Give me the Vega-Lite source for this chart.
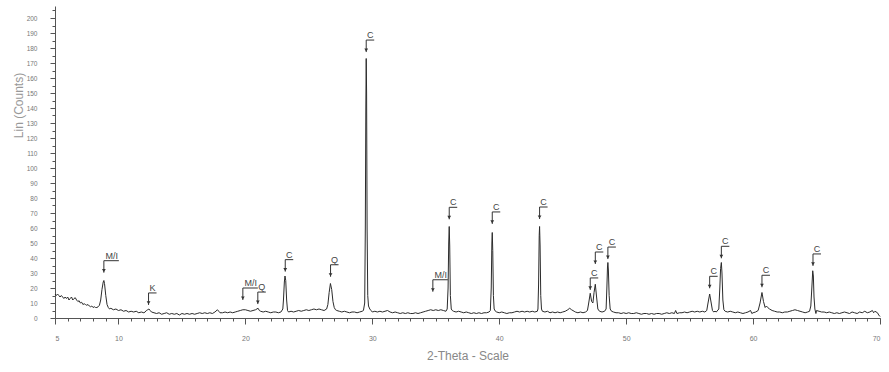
{
  "$schema": "https://vega.github.io/schema/vega-lite/v6.json",
  "width": 825,
  "height": 312,
  "autosize": "none",
  "padding": {"left": 55, "top": 6, "right": 9, "bottom": 54},
  "background": "white",
  "config": {"view": {"stroke": null}, "font": "Liberation Sans"},
  "datasets": {
    "scan": [
      {"t":5.0,"c":16},{"t":5.1,"c":15},{"t":5.2,"c":16},{"t":5.3,"c":15},{"t":5.4,"c":14},{"t":5.5,"c":15},{"t":5.6,"c":14},{"t":5.7,"c":13},{"t":5.8,"c":14},{"t":5.9,"c":13},
      {"t":6.0,"c":14},{"t":6.1,"c":12},{"t":6.2,"c":13},{"t":6.3,"c":14},{"t":6.4,"c":12},{"t":6.5,"c":13},{"t":6.6,"c":13.5},{"t":6.7,"c":12},{"t":6.8,"c":11},{"t":6.9,"c":11.5},
      {"t":7.0,"c":10},{"t":7.1,"c":10.5},{"t":7.2,"c":9},{"t":7.3,"c":9.5},{"t":7.4,"c":9},{"t":7.5,"c":8.5},{"t":7.6,"c":9},{"t":7.7,"c":8},{"t":7.8,"c":7.5},{"t":7.9,"c":8},
      {"t":8.0,"c":7},{"t":8.1,"c":7.5},{"t":8.2,"c":7},{"t":8.3,"c":7},{"t":8.4,"c":7.5},{"t":8.5,"c":8.5},{"t":8.6,"c":12},{"t":8.7,"c":19},{"t":8.8,"c":24},{"t":8.85,"c":25},
      {"t":8.9,"c":23},{"t":9.0,"c":15},{"t":9.1,"c":9},{"t":9.2,"c":7},{"t":9.3,"c":6},{"t":9.4,"c":6.5},{"t":9.6,"c":5.5},{"t":9.8,"c":6},{"t":10.0,"c":5},{"t":10.2,"c":5.5},
      {"t":10.4,"c":4.5},{"t":10.6,"c":5},{"t":10.8,"c":4},{"t":11.0,"c":4.5},{"t":11.2,"c":4},{"t":11.4,"c":4.5},{"t":11.6,"c":3.5},{"t":11.8,"c":4},{"t":12.0,"c":3.5},{"t":12.1,"c":4},
      {"t":12.2,"c":5},{"t":12.3,"c":5.5},{"t":12.4,"c":6},{"t":12.5,"c":5},{"t":12.6,"c":4},{"t":12.8,"c":3.5},{"t":13.0,"c":3},{"t":13.2,"c":3.5},{"t":13.4,"c":2.5},{"t":13.6,"c":3},
      {"t":13.8,"c":3.5},{"t":14.0,"c":2.5},{"t":14.2,"c":3},{"t":14.4,"c":2.5},{"t":14.6,"c":3},{"t":14.8,"c":2},{"t":15.0,"c":3},{"t":15.2,"c":2.5},{"t":15.4,"c":3},{"t":15.6,"c":2.5},
      {"t":15.8,"c":3},{"t":16.0,"c":2.5},{"t":16.2,"c":3},{"t":16.4,"c":3.5},{"t":16.6,"c":3},{"t":16.8,"c":3.5},{"t":17.0,"c":3},{"t":17.2,"c":3.5},{"t":17.4,"c":3},{"t":17.6,"c":4},
      {"t":17.8,"c":5.5},{"t":17.9,"c":4.5},{"t":18.0,"c":3.5},{"t":18.2,"c":3.5},{"t":18.4,"c":4},{"t":18.6,"c":3.5},{"t":18.8,"c":4},{"t":19.0,"c":3.5},{"t":19.2,"c":4},{"t":19.4,"c":4.5},
      {"t":19.6,"c":5},{"t":19.8,"c":5.5},{"t":20.0,"c":5.5},{"t":20.2,"c":5},{"t":20.4,"c":4.5},{"t":20.6,"c":5},{"t":20.8,"c":5.5},{"t":21.0,"c":6.5},{"t":21.1,"c":5},{"t":21.2,"c":4.5},
      {"t":21.4,"c":4},{"t":21.6,"c":4.5},{"t":21.8,"c":4},{"t":22.0,"c":3.5},{"t":22.2,"c":4},{"t":22.4,"c":4},{"t":22.6,"c":3.5},{"t":22.8,"c":4},{"t":22.95,"c":6},{"t":23.0,"c":12},
      {"t":23.07,"c":24},{"t":23.12,"c":28},{"t":23.18,"c":25},{"t":23.25,"c":12},{"t":23.32,"c":5},{"t":23.4,"c":4},{"t":23.6,"c":4.5},{"t":23.8,"c":4},{"t":24.0,"c":4.5},{"t":24.2,"c":5},
      {"t":24.4,"c":4.5},{"t":24.6,"c":5},{"t":24.8,"c":5.5},{"t":25.0,"c":5},{"t":25.2,"c":5.5},{"t":25.4,"c":6},{"t":25.6,"c":5.5},{"t":25.8,"c":6},{"t":26.0,"c":5.5},{"t":26.2,"c":5},
      {"t":26.4,"c":6},{"t":26.5,"c":9},{"t":26.6,"c":17},{"t":26.7,"c":23},{"t":26.8,"c":19},{"t":26.9,"c":11},{"t":27.0,"c":7},{"t":27.1,"c":5.5},{"t":27.2,"c":5},{"t":27.4,"c":4.5},
      {"t":27.6,"c":4},{"t":27.8,"c":4.5},{"t":28.0,"c":4},{"t":28.2,"c":3.5},{"t":28.4,"c":4},{"t":28.6,"c":4},{"t":28.8,"c":3.5},{"t":29.0,"c":4},{"t":29.2,"c":4.5},{"t":29.3,"c":5},
      {"t":29.4,"c":10},{"t":29.45,"c":60},{"t":29.49,"c":140},{"t":29.52,"c":173},{"t":29.55,"c":150},{"t":29.59,"c":60},{"t":29.64,"c":15},{"t":29.7,"c":8},{"t":29.8,"c":6},{"t":29.9,"c":5},
      {"t":30.0,"c":4},{"t":30.2,"c":4.5},{"t":30.4,"c":4},{"t":30.6,"c":4.5},{"t":30.8,"c":4},{"t":31.0,"c":4.5},{"t":31.2,"c":5},{"t":31.4,"c":4},{"t":31.6,"c":3.5},{"t":31.8,"c":4},
      {"t":32.0,"c":3.5},{"t":32.2,"c":3},{"t":32.4,"c":3.5},{"t":32.6,"c":3},{"t":32.8,"c":3.5},{"t":33.0,"c":3},{"t":33.2,"c":3},{"t":33.4,"c":3.5},{"t":33.6,"c":3},{"t":33.8,"c":3.5},
      {"t":34.0,"c":4},{"t":34.2,"c":4.5},{"t":34.4,"c":5},{"t":34.6,"c":5.5},{"t":34.8,"c":5},{"t":35.0,"c":5.5},{"t":35.2,"c":5},{"t":35.4,"c":5.5},{"t":35.6,"c":5},{"t":35.8,"c":4.5},
      {"t":35.9,"c":6},{"t":35.97,"c":20},{"t":36.02,"c":50},{"t":36.06,"c":61},{"t":36.1,"c":48},{"t":36.15,"c":15},{"t":36.22,"c":6},{"t":36.3,"c":5},{"t":36.4,"c":4.5},{"t":36.6,"c":4},
      {"t":36.8,"c":4.5},{"t":37.0,"c":4},{"t":37.2,"c":3.5},{"t":37.4,"c":4},{"t":37.6,"c":3.5},{"t":37.8,"c":3},{"t":38.0,"c":3.5},{"t":38.2,"c":3},{"t":38.4,"c":3.5},{"t":38.6,"c":3},
      {"t":38.8,"c":3.5},{"t":39.0,"c":3.5},{"t":39.2,"c":4},{"t":39.3,"c":5},{"t":39.37,"c":20},{"t":39.42,"c":50},{"t":39.45,"c":57},{"t":39.49,"c":45},{"t":39.54,"c":15},{"t":39.6,"c":6},
      {"t":39.7,"c":4.5},{"t":39.8,"c":4},{"t":40.0,"c":3.5},{"t":40.2,"c":4},{"t":40.4,"c":3.5},{"t":40.6,"c":3},{"t":40.8,"c":3.5},{"t":41.0,"c":3.5},{"t":41.2,"c":4},{"t":41.4,"c":4.5},
      {"t":41.6,"c":4},{"t":41.8,"c":4.5},{"t":42.0,"c":4},{"t":42.2,"c":4.5},{"t":42.4,"c":4},{"t":42.6,"c":4.5},{"t":42.8,"c":4},{"t":43.0,"c":4.5},{"t":43.05,"c":6},{"t":43.1,"c":22},
      {"t":43.15,"c":55},{"t":43.18,"c":61},{"t":43.22,"c":48},{"t":43.27,"c":15},{"t":43.33,"c":6},{"t":43.4,"c":4.5},{"t":43.6,"c":4},{"t":43.8,"c":4.5},{"t":44.0,"c":3.5},{"t":44.2,"c":4},
      {"t":44.4,"c":3.5},{"t":44.6,"c":4},{"t":44.8,"c":3.5},{"t":45.0,"c":4},{"t":45.2,"c":4.5},{"t":45.4,"c":5.5},{"t":45.55,"c":6.5},{"t":45.7,"c":5.5},{"t":45.9,"c":4.5},{"t":46.0,"c":4},
      {"t":46.2,"c":3.5},{"t":46.4,"c":4},{"t":46.6,"c":3.5},{"t":46.8,"c":4},{"t":46.95,"c":5},{"t":47.05,"c":10},{"t":47.17,"c":16.5},{"t":47.28,"c":11},{"t":47.38,"c":10},{"t":47.47,"c":17},
      {"t":47.57,"c":22.5},{"t":47.67,"c":14},{"t":47.77,"c":6},{"t":47.9,"c":4.5},{"t":48.1,"c":4},{"t":48.3,"c":4.5},{"t":48.42,"c":6},{"t":48.48,"c":20},{"t":48.53,"c":34},{"t":48.56,"c":37},
      {"t":48.6,"c":32},{"t":48.66,"c":15},{"t":48.74,"c":6},{"t":48.85,"c":4.5},{"t":49.0,"c":4},{"t":49.2,"c":3.5},{"t":49.4,"c":3.5},{"t":49.6,"c":3},{"t":49.8,"c":3.5},{"t":50.0,"c":3},
      {"t":50.2,"c":3.5},{"t":50.4,"c":3},{"t":50.6,"c":3},{"t":50.8,"c":3.5},{"t":51.0,"c":3},{"t":51.2,"c":2.5},{"t":51.4,"c":3},{"t":51.6,"c":3},{"t":51.8,"c":2.5},{"t":52.0,"c":3},
      {"t":52.2,"c":2.5},{"t":52.4,"c":3},{"t":52.6,"c":3},{"t":52.8,"c":2.5},{"t":53.0,"c":3},{"t":53.2,"c":3.5},{"t":53.4,"c":3},{"t":53.6,"c":3.5},{"t":53.8,"c":3},{"t":53.9,"c":5},
      {"t":54.0,"c":3},{"t":54.2,"c":3.5},{"t":54.4,"c":3.5},{"t":54.6,"c":4},{"t":54.8,"c":3.5},{"t":55.0,"c":4},{"t":55.2,"c":4.5},{"t":55.4,"c":4},{"t":55.6,"c":4.5},{"t":55.8,"c":4},
      {"t":56.0,"c":4.5},{"t":56.2,"c":4},{"t":56.35,"c":5},{"t":56.45,"c":10},{"t":56.58,"c":16},{"t":56.7,"c":10},{"t":56.8,"c":5},{"t":56.9,"c":4},{"t":57.0,"c":4.5},{"t":57.1,"c":4},
      {"t":57.3,"c":6},{"t":57.38,"c":20},{"t":57.44,"c":33},{"t":57.5,"c":37},{"t":57.55,"c":30},{"t":57.62,"c":12},{"t":57.7,"c":5.5},{"t":57.8,"c":4.5},{"t":58.0,"c":4},{"t":58.2,"c":4.5},
      {"t":58.4,"c":4},{"t":58.6,"c":3.5},{"t":58.8,"c":4},{"t":59.0,"c":3.5},{"t":59.2,"c":3},{"t":59.4,"c":3.5},{"t":59.6,"c":4},{"t":59.8,"c":5},{"t":59.9,"c":3},{"t":60.0,"c":3.5},
      {"t":60.2,"c":4},{"t":60.4,"c":5},{"t":60.55,"c":10},{"t":60.7,"c":17},{"t":60.82,"c":11},{"t":60.95,"c":7},{"t":61.05,"c":8},{"t":61.15,"c":7},{"t":61.3,"c":6},{"t":61.5,"c":5},
      {"t":61.7,"c":4.5},{"t":61.9,"c":4},{"t":62.1,"c":4},{"t":62.3,"c":3.5},{"t":62.5,"c":4},{"t":62.7,"c":4},{"t":62.9,"c":4.5},{"t":63.1,"c":5},{"t":63.3,"c":5.5},{"t":63.5,"c":5},
      {"t":63.7,"c":4.5},{"t":63.9,"c":4},{"t":64.1,"c":3.5},{"t":64.3,"c":4},{"t":64.45,"c":4.5},{"t":64.55,"c":8},{"t":64.63,"c":20},{"t":64.7,"c":31.5},{"t":64.75,"c":28},{"t":64.8,"c":14},
      {"t":64.87,"c":6},{"t":64.95,"c":3},{"t":65.0,"c":5},{"t":65.2,"c":4.5},{"t":65.4,"c":4},{"t":65.6,"c":4},{"t":65.8,"c":3.5},{"t":66.0,"c":4},{"t":66.2,"c":3.5},{"t":66.4,"c":3},
      {"t":66.6,"c":3.5},{"t":66.8,"c":3},{"t":67.0,"c":3.5},{"t":67.2,"c":4},{"t":67.4,"c":3.5},{"t":67.6,"c":3},{"t":67.8,"c":4},{"t":68.0,"c":3.5},{"t":68.2,"c":3},{"t":68.4,"c":4},
      {"t":68.6,"c":3.5},{"t":68.8,"c":4.5},{"t":69.0,"c":3.5},{"t":69.2,"c":4},{"t":69.4,"c":5},{"t":69.5,"c":3.5},{"t":69.6,"c":4.5},{"t":69.8,"c":3.5},{"t":69.9,"c":2},{"t":70.0,"c":1}
    ],
    "peaks": [
      {"t":8.85,"c":30.2,"label":"M/I"},
      {"t":12.37,"c":8.7,"label":"K"},
      {"t":19.8,"c":12,"label":"M/I"},
      {"t":20.98,"c":9.3,"label":"Q"},
      {"t":23.14,"c":30.9,"label":"C"},
      {"t":26.71,"c":27.5,"label":"Q"},
      {"t":29.52,"c":177.3,"label":"C"},
      {"t":34.77,"c":17.5,"label":"M/I"},
      {"t":36.06,"c":65.8,"label":"C"},
      {"t":39.45,"c":62.7,"label":"C"},
      {"t":43.18,"c":66,"label":"C"},
      {"t":47.17,"c":18.7,"label":"C"},
      {"t":47.57,"c":36,"label":"C"},
      {"t":48.56,"c":39.3,"label":"C"},
      {"t":56.58,"c":19.8,"label":"C"},
      {"t":57.5,"c":39.8,"label":"C"},
      {"t":60.7,"c":20.5,"label":"C"},
      {"t":64.72,"c":34.7,"label":"C"}
    ]
  },
  "resolve": {"axis": {"x": "independent", "y": "independent"}},
  "layer": [
    {
      "data": {"name": "scan"},
      "mark": {"type": "line", "color": "#2b2b2b", "strokeWidth": 1},
      "encoding": {
        "x": {
          "field": "t", "type": "quantitative",
          "scale": {"domain": [5, 70], "nice": false, "zero": false},
          "axis": {
            "orient": "bottom", "title": "2-Theta - Scale", "values": [5, 10, 20, 30, 40, 50, 60, 70],
            "grid": false, "domainColor": "#555", "tickColor": "#555", "tickSize": 6,
            "labelFontSize": 7, "labelColor": "#777", "labelPadding": 10,
            "titleFontSize": 12, "titleFontWeight": "normal", "titleColor": "#888", "titlePadding": 9
          }
        },
        "y": {
          "field": "c", "type": "quantitative",
          "scale": {"domain": [0, 208], "nice": false},
          "axis": {
            "orient": "left", "title": "Lin (Counts)",
            "values": [0,10,20,30,40,50,60,70,80,90,100,110,120,130,140,150,160,170,180,190,200],
            "grid": false, "domainColor": "#555", "tickColor": "#555", "tickSize": 5,
            "labelFontSize": 6.5, "labelColor": "#777", "labelPadding": 13,
            "titleFontSize": 12, "titleFontWeight": "normal", "titleColor": "#999",
            "titleX": -37, "titleY": 99, "titleAngle": -90, "titleBaseline": "middle", "titleAlign": "center"
          }
        }
      }
    },
    {
      "data": {"name": "scan"},
      "mark": {"type": "point", "opacity": 0},
      "encoding": {
        "x": {
          "field": "t", "type": "quantitative",
          "axis": {
            "orient": "bottom", "title": null, "labels": false, "domain": false, "grid": false,
            "values": [5,6,7,8,9,10,11,12,13,14,15,16,17,18,19,20,21,22,23,24,25,26,27,28,29,30,31,32,33,34,35,36,37,38,39,40,41,42,43,44,45,46,47,48,49,50,51,52,53,54,55,56,57,58,59,60,61,62,63,64,65,66,67,68,69,70],
            "tickColor": "#555", "tickSize": 3
          }
        },
        "y": {
          "field": "c", "type": "quantitative",
          "axis": {
            "orient": "left", "title": null, "labels": false, "domain": false, "grid": false,
            "values": [5,15,25,35,45,55,65,75,85,95,105,115,125,135,145,155,165,175,185,195,205],
            "tickColor": "#555", "tickSize": 3
          }
        }
      }
    },
    {
      "data": {"name": "peaks"},
      "mark": {"type": "rule", "color": "#333", "strokeWidth": 1, "y2Offset": -12},
      "encoding": {
        "x": {"field": "t", "type": "quantitative", "axis": null},
        "y": {"field": "c", "type": "quantitative", "axis": null},
        "y2": {"field": "c"}
      }
    },
    {
      "data": {"name": "peaks"},
      "transform": [{"filter": "datum.label !== 'M/I'"}],
      "mark": {"type": "rule", "color": "#333", "strokeWidth": 1, "yOffset": -12, "x2Offset": 8},
      "encoding": {
        "x": {"field": "t", "type": "quantitative", "axis": null},
        "x2": {"field": "t"},
        "y": {"field": "c", "type": "quantitative", "axis": null}
      }
    },
    {
      "data": {"name": "peaks"},
      "transform": [{"filter": "datum.label === 'M/I'"}],
      "mark": {"type": "rule", "color": "#333", "strokeWidth": 1, "yOffset": -12, "x2Offset": 15},
      "encoding": {
        "x": {"field": "t", "type": "quantitative", "axis": null},
        "x2": {"field": "t"},
        "y": {"field": "c", "type": "quantitative", "axis": null}
      }
    },
    {
      "data": {"name": "peaks"},
      "mark": {"type": "point", "shape": "triangle-down", "filled": true, "color": "#333", "size": 14, "opacity": 1, "yOffset": -2},
      "encoding": {
        "x": {"field": "t", "type": "quantitative", "axis": null},
        "y": {"field": "c", "type": "quantitative", "axis": null}
      }
    },
    {
      "data": {"name": "peaks"},
      "transform": [{"filter": "datum.label !== 'M/I'"}],
      "mark": {"type": "text", "fontSize": 9, "color": "#444", "align": "center", "baseline": "alphabetic", "xOffset": 4, "yOffset": -14},
      "encoding": {
        "x": {"field": "t", "type": "quantitative", "axis": null},
        "y": {"field": "c", "type": "quantitative", "axis": null},
        "text": {"field": "label"}
      }
    },
    {
      "data": {"name": "peaks"},
      "transform": [{"filter": "datum.label === 'M/I'"}],
      "mark": {"type": "text", "fontSize": 9, "color": "#444", "align": "center", "baseline": "alphabetic", "xOffset": 8, "yOffset": -14},
      "encoding": {
        "x": {"field": "t", "type": "quantitative", "axis": null},
        "y": {"field": "c", "type": "quantitative", "axis": null},
        "text": {"field": "label"}
      }
    }
  ]
}
